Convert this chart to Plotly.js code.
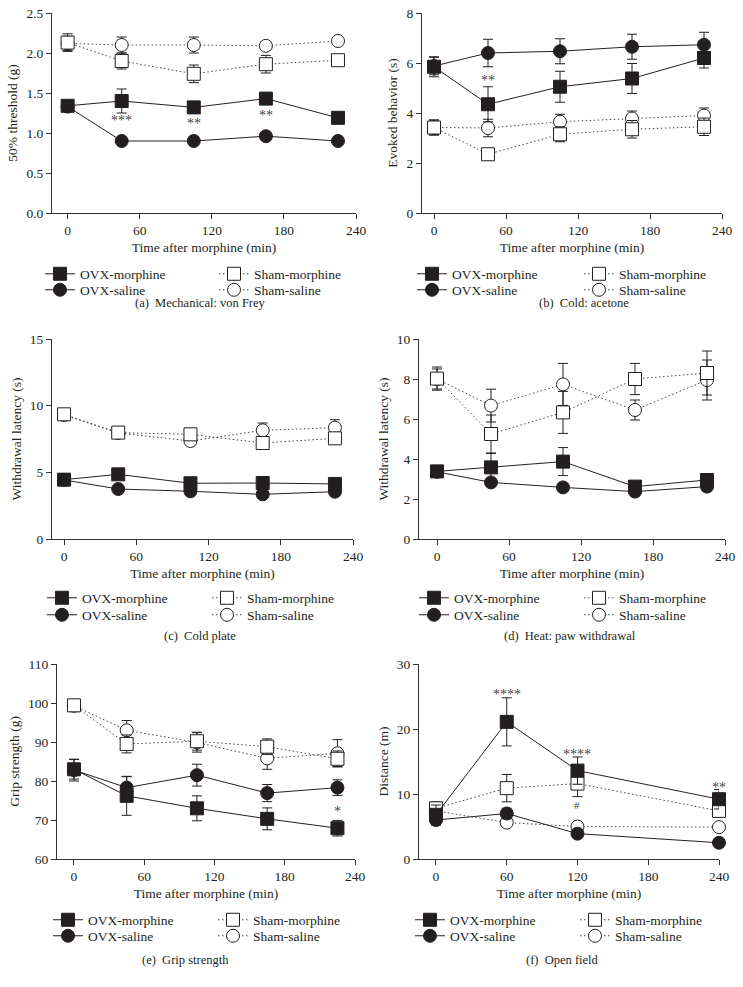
<!DOCTYPE html>
<html>
<head>
<meta charset="utf-8">
<script src="https://cdn.plot.ly/plotly-3.0.1.min.js"></script>
<style>
  html, body { margin:0; padding:0; background:#fff; }
  #chart { width:743px; height:987px; }
</style>
</head>
<body>
<div id="chart"></div>
<script>
// time points (min)
const timeA = [0, 45, 105, 165, 225];
const timeF = [0, 60, 120, 240];
const timeTicks = [0, 60, 120, 180, 240];

// (a) Mechanical: von Frey
const aOvxM = [1.34, 1.40, 1.32, 1.43, 1.19];
const aOvxMErr = [0.05, 0.15, 0.06, 0.06, 0.05];
const aOvxS = [1.33, 0.90, 0.90, 0.96, 0.90];
const aOvxSErr = [0.04, 0.04, 0.04, 0.04, 0.04];
const aShamM = [2.13, 1.90, 1.74, 1.86, 1.91];
const aShamMErr = [0.11, 0.10, 0.11, 0.11, 0.06];
const aShamS = [2.12, 2.10, 2.10, 2.09, 2.15];
const aShamSErr = [0.09, 0.10, 0.10, 0.04, 0.04];
const aSigX = [45, 105, 165];
const aSigY = [1.19, 1.15, 1.26];
const aSigText = ['***', '**', '**'];

// (b) Cold: acetone
const bOvxM = [5.85, 4.35, 5.05, 5.38, 6.20];
const bOvxMErr = [0.40, 0.70, 0.62, 0.60, 0.40];
const bOvxS = [5.88, 6.40, 6.47, 6.65, 6.73];
const bOvxSErr = [0.35, 0.55, 0.50, 0.50, 0.50];
const bShamM = [3.42, 2.35, 3.15, 3.35, 3.45];
const bShamMErr = [0.30, 0.20, 0.30, 0.35, 0.35];
const bShamS = [3.42, 3.40, 3.65, 3.78, 3.90];
const bShamSErr = [0.30, 0.35, 0.30, 0.30, 0.30];
const bSigX = [45];
const bSigY = [5.4];
const bSigText = ['**'];

// (c) Cold plate
const cOvxM = [4.45, 4.85, 4.18, 4.20, 4.13];
const cOvxMErr = [0.20, 0.35, 0.30, 0.30, 0.30];
const cOvxS = [4.43, 3.75, 3.58, 3.35, 3.55];
const cOvxSErr = [0.20, 0.20, 0.20, 0.20, 0.20];
const cShamM = [9.35, 7.98, 7.85, 7.20, 7.55];
const cShamMErr = [0.30, 0.30, 0.30, 0.40, 0.40];
const cShamS = [9.30, 7.95, 7.35, 8.15, 8.35];
const cShamSErr = [0.30, 0.30, 0.30, 0.55, 0.60];

// (d) Heat: paw withdrawal
const dOvxM = [3.38, 3.58, 3.87, 2.62, 2.95];
const dOvxMErr = [0.15, 0.70, 0.70, 0.15, 0.15];
const dOvxS = [3.36, 2.83, 2.58, 2.37, 2.62];
const dOvxSErr = [0.15, 0.15, 0.15, 0.15, 0.15];
const dShamM = [8.02, 5.25, 6.33, 8.00, 8.30];
const dShamMErr = [0.58, 0.95, 1.05, 0.78, 1.10];
const dShamS = [8.00, 6.67, 7.73, 6.45, 7.95];
const dShamSErr = [0.50, 0.82, 1.05, 0.50, 1.00];

// (e) Grip strength
const eOvxM = [83.0, 76.2, 73.0, 70.3, 67.9];
const eOvxMErr = [2.5, 5.0, 3.2, 2.8, 2.0];
const eOvxS = [82.8, 78.3, 81.5, 76.9, 78.3];
const eOvxSErr = [2.8, 2.8, 2.8, 2.2, 2.0];
const eShamM = [99.4, 89.5, 90.2, 88.8, 85.7];
const eShamMErr = [1.5, 2.3, 2.3, 2.0, 2.0];
const eShamS = [99.3, 93.0, 89.9, 85.8, 87.1];
const eShamSErr = [1.5, 2.5, 2.5, 2.8, 3.5];
const eSigX = [225];
const eSigY = [73];
const eSigText = ['*'];

// (f) Open field
const fOvxM = [6.8, 21.1, 13.6, 9.2];
const fOvxMErr = [1.5, 3.7, 2.1, 1.5];
const fOvxS = [6.0, 7.0, 3.9, 2.5];
const fOvxSErr = [0.8, 0.8, 0.6, 0.4];
const fShamM = [7.8, 10.9, 11.6, 7.4];
const fShamMErr = [1.0, 2.1, 2.0, 1.0];
const fShamS = [7.4, 5.6, 5.0, 4.9];
const fShamSErr = [0.8, 0.6, 0.5, 0.4];
const fSigX = [60, 120, 240, 120];
const fSigY = [25.8, 16.6, 11.5, 8.3];
const fSigText = ['****', '****', '**', '#'];

const groupNames = ['OVX-morphine', 'OVX-saline', 'Sham-morphine', 'Sham-saline'];

(function(){
  const W = 743, H = 987;
  const FONT = '"Liberation Serif", "Times New Roman", serif';
  const INK = '#231f20';
  const px = v => v / W;
  const py = v => 1 - v / H;

  // OVX solid/filled, Sham dotted/open
  const looks = [
    {symbol:'square', fill:INK, dash:'solid', line:INK, col:0, row:0},
    {symbol:'circle', fill:INK, dash:'solid', line:INK, col:0, row:1},
    {symbol:'square', fill:'#fff', dash:'1.5px,2.5px', line:'#444', col:1, row:0},
    {symbol:'circle', fill:'#fff', dash:'1.5px,2.5px', line:'#444', col:1, row:1},
  ];

  // box: plot left, right, top, bottom (page px); leg: left text x, right text x, row1 y, row2 y
  const panels = [
    {x:timeA, ys:[aOvxM,aOvxS,aShamM,aShamS], es:[aOvxMErr,aOvxSErr,aShamMErr,aShamSErr],
     ytitle:'50% threshold (g)', yrange:[0,2.5], dtick:0.5, fmt:'.1f', xrange:[-13,240],
     box:[52,356,13,213], leg:[80,254,274,290], cap:'(a)  Mechanical: von Frey', capPos:[200,303],
     sig:[aSigX,aSigY,aSigText]},
    {x:timeA, ys:[bOvxM,bOvxS,bShamM,bShamS], es:[bOvxMErr,bOvxSErr,bShamMErr,bShamSErr],
     ytitle:'Evoked behavior (s)', yrange:[0,8], dtick:2, fmt:'', xrange:[-10,240],
     box:[422,722,13,213], leg:[452,619,274,290], cap:'(b)  Cold: acetone', capPos:[584,303],
     sig:[bSigX,bSigY,bSigText]},
    {x:timeA, ys:[cOvxM,cOvxS,cShamM,cShamS], es:[cOvxMErr,cOvxSErr,cShamMErr,cShamSErr],
     ytitle:'Withdrawal latency (s)', yrange:[0,15], dtick:5, fmt:'', xrange:[-10,240],
     box:[52,353,339,539], leg:[82,247,598,615], cap:'(c)  Cold plate', capPos:[200,636],
     sig:null},
    {x:timeA, ys:[dOvxM,dOvxS,dShamM,dShamS], es:[dOvxMErr,dOvxSErr,dShamMErr,dShamSErr],
     ytitle:'Withdrawal latency (s)', yrange:[0,10], dtick:2, fmt:'', xrange:[-15,240],
     box:[419,725,339,539], leg:[454,619,598,615], cap:'(d)  Heat: paw withdrawal', capPos:[570,636],
     sig:null},
    {x:timeA, ys:[eOvxM,eOvxS,eShamM,eShamS], es:[eOvxMErr,eOvxSErr,eShamMErr,eShamSErr],
     ytitle:'Grip strength (g)', yrange:[60,110], dtick:10, fmt:'', xrange:[-14.5,240],
     box:[57,355,664,859], leg:[88,253,920,936], cap:'(e)  Grip strength', capPos:[185,960],
     sig:[eSigX,eSigY,eSigText]},
    {x:timeF, ys:[fOvxM,fOvxS,fShamM,fShamS], es:[fOvxMErr,fOvxSErr,fShamMErr,fShamSErr],
     ytitle:'Distance (m)', yrange:[0,30], dtick:10, fmt:'', xrange:[-14.4,240],
     box:[419,719,664,859], leg:[450,615,920,936], cap:'(f)  Open field', capPos:[562,960],
     sig:[fSigX,fSigY,fSigText]},
  ];

  const traces = [];
  const annotations = [];
  const layout = {
    width:W, height:H,
    margin:{l:0, r:0, t:0, b:0},
    paper_bgcolor:'#fff', plot_bgcolor:'rgba(0,0,0,0)',
    font:{family:FONT, size:13, color:INK},
    showlegend:true,
  };

  const axisBase = {
    showline:true, linecolor:'#333', linewidth:1,
    ticks:'outside', ticklen:5, tickwidth:1, tickcolor:'#333',
    showgrid:false, zeroline:false, fixedrange:true,
    tickfont:{family:FONT, size:13.5, color:INK},
  };

  panels.forEach((p, i) => {
    const n = i + 1;
    const xa = n === 1 ? 'x' : 'x' + n;
    const ya = n === 1 ? 'y' : 'y' + n;

    // Sham first, OVX drawn on top
    [3, 2, 1, 0].forEach(g => {
      const lk = looks[g];
      const k = 4*i + g + 1;
      const legKey = k === 1 ? 'legend' : 'legend' + k;
      traces.push({
        type:'scatter', mode:'lines+markers', name:groupNames[g],
        x:p.x, y:p.ys[g], xaxis:xa, yaxis:ya, legend:legKey,
        error_y:{type:'data', array:p.es[g], visible:true, color:INK, thickness:1, width:5},
        line:{color:lk.line, width:1, dash:lk.dash},
        marker:{symbol:lk.symbol, size:13, color:lk.fill, line:{color:INK, width:1}},
        cliponaxis:false, hoverinfo:'skip',
      });
      // one legend per entry, so the 2x2 block can be placed row by row
      layout[legKey] = {
        orientation:'v', xanchor:'left', yanchor:'middle',
        x:px(p.leg[lk.col] - 40), y:py(p.leg[2 + lk.row]),
        bgcolor:'rgba(0,0,0,0)', borderwidth:0,
        font:{family:FONT, size:13.5, color:INK}, itemclick:false, itemdoubleclick:false,
      };
    });

    const [l, r, t, b] = p.box;
    layout['xaxis' + (n === 1 ? '' : n)] = Object.assign({}, axisBase, {
      domain:[px(l), px(r)], anchor:ya, range:p.xrange, tickvals:timeTicks,
      title:{text:'Time after morphine (min)', font:{family:FONT, size:13.5, color:INK}, standoff:5},
    });
    layout['yaxis' + (n === 1 ? '' : n)] = Object.assign({}, axisBase, {
      domain:[py(b), py(t)], anchor:xa, range:p.yrange, dtick:p.dtick, tick0:0,
      tickformat:p.fmt,
      title:{text:p.ytitle, font:{family:FONT, size:13.5, color:INK}, standoff:5},
    });

    annotations.push({
      xref:'paper', yref:'paper', x:px(p.capPos[0]), y:py(p.capPos[1]),
      xanchor:'center', yanchor:'middle', showarrow:false, text:p.cap,
      font:{family:FONT, size:12.5, color:INK},
    });

    if (p.sig) {
      const [sx, sy, st] = p.sig;
      sx.forEach((xv, k) => {
        annotations.push({
          xref:xa, yref:ya, x:xv, y:sy[k], xanchor:'center', yanchor:'middle',
          showarrow:false, text:st[k], yshift: st[k] === '#' ? 0 : -3,
          font:{family:FONT, size:st[k] === '#' ? 11 : 14, color:'#444'},
        });
      });
    }
  });

  layout.annotations = annotations;

  Plotly.newPlot('chart', traces, layout, {displayModeBar:false, staticPlot:true});
})();
</script>
</body>
</html>
